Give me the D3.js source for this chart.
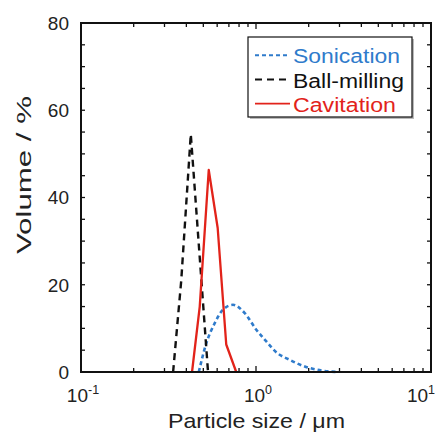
<!DOCTYPE html>
<html><head><meta charset="utf-8">
<script src="https://cdn.jsdelivr.net/npm/d3@7"></script>
<style>body{margin:0;background:#fff}svg{display:block;font-family:"Liberation Sans",Arial,sans-serif}</style>
</head><body><svg id="c" width="448" height="435"></svg>
<script>
const sonicationX = [0.471,0.520,0.581,0.648,0.739,0.862,1.004,1.146,1.30,1.564,1.95,2.41,2.89];
const sonicationY = [0,6.6,11.2,14.3,15.4,13.5,9.7,7.0,4.6,2.75,1.1,0.3,0];
const ballX = [0.336,0.374,0.424,0.532];
const ballY = [0,21,54.5,0];
const cavX = [0.431,0.477,0.537,0.604,0.676,0.771];
const cavY = [0,15,46.3,33,6.3,0];
const seriesNames = ["Sonication","Ball-milling","Cavitation"];
const xTickExp = ["-1","0","1"];
const yTickLabels = [0,20,40,60,80];

const svg = d3.select("#c");
const L=81,R=431,T=23,B=372;
const x = d3.scaleLog().domain([0.1,10]).range([L,R]);
const y = d3.scaleLinear().domain([0,80]).range([B,T]);
const colors = {"Sonication":"#2f7bcb","Ball-milling":"#111","Cavitation":"#e2231a"};

const xMinor = [];
[0.1,1].forEach(d=>{for(let k=2;k<=9;k++) xMinor.push(d*k);});
const xMajor = [0.1,1,10];
const yMinor = d3.range(0,81,5);
const g = svg.append("g").attr("stroke","#111").attr("stroke-width",1.3);
xMinor.forEach(v=>{
  g.append("line").attr("x1",x(v)).attr("x2",x(v)).attr("y1",B).attr("y2",B-4);
  g.append("line").attr("x1",x(v)).attr("x2",x(v)).attr("y1",T).attr("y2",T+4);
});
xMajor.forEach(v=>{
  g.append("line").attr("x1",x(v)).attr("x2",x(v)).attr("y1",B).attr("y2",B-6);
  g.append("line").attr("x1",x(v)).attr("x2",x(v)).attr("y1",T).attr("y2",T+6);
});
yMinor.forEach(v=>{
  g.append("line").attr("x1",L).attr("x2",L+4).attr("y1",y(v)).attr("y2",y(v));
  g.append("line").attr("x1",R).attr("x2",R-4).attr("y1",y(v)).attr("y2",y(v));
});

function draw(xs,ys,name,dash,w,curve){
  const pts = xs.map((d,i)=>[d,ys[i]]);
  svg.append("path").datum(pts)
    .attr("d",d3.line().x(d=>x(d[0])).y(d=>y(d[1])).curve(curve))
    .attr("fill","none").attr("stroke",colors[name]).attr("stroke-width",w)
    .attr("stroke-dasharray",dash).attr("stroke-linejoin","round");
}
draw(sonicationX,sonicationY,"Sonication","4,3",2.6,d3.curveMonotoneX);
draw(ballX,ballY,"Ball-milling","7,5",2.4,d3.curveLinear);
draw(cavX,cavY,"Cavitation",null,2.3,d3.curveLinear);

svg.append("rect").attr("x",L).attr("y",T).attr("width",R-L).attr("height",B-T)
  .attr("fill","none").attr("stroke","#111").attr("stroke-width",2);

yTickLabels.forEach(v=>{
  svg.append("text").attr("x",69).attr("y",y(v)).attr("dy","0.36em")
    .attr("text-anchor","end").attr("font-size",19).attr("fill","#222").text(v);
});
xMajor.forEach((v,i)=>{
  const last = i===xMajor.length-1;
  const t = svg.append("text").attr("x",last?R+4:x(v)+2).attr("y",402)
    .attr("text-anchor",last?"end":"middle")
    .attr("font-size",19).attr("fill","#222");
  t.append("tspan").text("10");
  t.append("tspan").attr("font-size",12.5).attr("dy",-8).text(xTickExp[i]);
});
svg.append("text").attr("x",256.5).attr("y",428).attr("text-anchor","middle")
  .attr("font-size",21).attr("fill","#222")
  .attr("textLength",177).attr("lengthAdjust","spacingAndGlyphs").text("Particle size / \u03bcm");
svg.append("text").attr("transform","translate(31,175) rotate(-90)").attr("text-anchor","middle")
  .attr("font-size",21).attr("fill","#222")
  .attr("textLength",158).attr("lengthAdjust","spacingAndGlyphs").text("Volume / %");

const lx=248,ly=37,lw=164,lh=80;
svg.append("rect").attr("x",lx+2).attr("y",ly+2).attr("width",lw).attr("height",lh).attr("fill","#bbb");
svg.append("rect").attr("x",lx).attr("y",ly).attr("width",lw).attr("height",lh)
  .attr("fill","#fff").attr("stroke","#111").attr("stroke-width",1.2);
const legDash = {"Sonication":"4,3","Ball-milling":"7,5","Cavitation":null};
const legW = {"Sonication":107,"Ball-milling":111,"Cavitation":103};
seriesNames.forEach((n,i)=>{
  const base = 63.3+i*24.2;
  const yy = base-8;
  svg.append("line").attr("x1",255).attr("x2",290).attr("y1",yy).attr("y2",yy)
    .attr("stroke",colors[n]).attr("stroke-width",n==="Cavitation"?1.8:2)
    .attr("stroke-dasharray",legDash[n]);
  svg.append("text").attr("x",293).attr("y",base)
    .attr("font-size",20).attr("fill",colors[n])
    .attr("textLength",legW[n]).attr("lengthAdjust","spacingAndGlyphs").text(n);
});
</script></body></html>
